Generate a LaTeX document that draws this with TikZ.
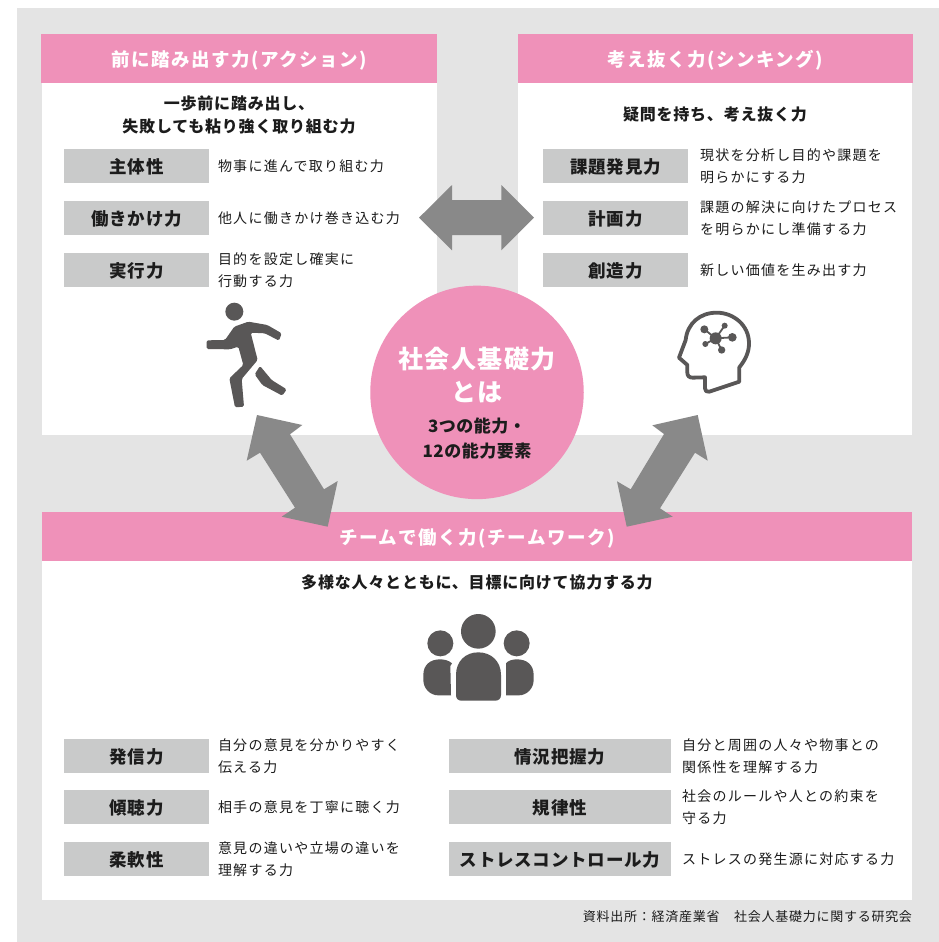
\documentclass[tikz,border=0pt]{standalone}
\usepackage{fontspec}
\usepackage{tikz}
\usetikzlibrary{calc}
\setmainfont{Noto Sans CJK JP}
\definecolor{bggray}{HTML}{E4E4E4}
\definecolor{headpink}{HTML}{EF91B9}
\definecolor{lblgray}{HTML}{C9CACA}
\definecolor{arrgray}{HTML}{898989}
\definecolor{icongray}{HTML}{595757}
\definecolor{txtblack}{HTML}{1C1C1C}
\newcommand{\fontTitle}{\bfseries\fontsize{18.5}{22}\selectfont\addfontfeature{LetterSpace=8}}
\newcommand{\fontLead}{\bfseries\fontsize{16}{23}\selectfont\addfontfeature{LetterSpace=5}}
\newcommand{\fontLbl}{\bfseries\fontsize{17.5}{22}\selectfont\addfontfeature{LetterSpace=4.5}}
\newcommand{\fontDesc}{\fontsize{14}{22}\selectfont\addfontfeature{LetterSpace=9}}
\begin{document}
\begin{tikzpicture}[x=1pt,y=-1pt,
	every node/.style={inner sep=0pt,outer sep=0pt,text=txtblack},
	header/.style={fill=headpink,minimum height=49pt,text=white,text height=17pt,text depth=1.5pt,font=\fontTitle},
	lead/.style={align=center,font=\fontLead},
	lbl/.style={fill=lblgray,minimum width=145pt,minimum height=34pt,text height=16.5pt,text depth=1.5pt,font=\fontLbl},
	desc/.style={anchor=west,align=left,font=\fontDesc},
	dblarrow/.style={fill=arrgray},
	icon/.style={fill=icongray}]
\useasboundingbox (0,0) rectangle (939,942);
\fill[white] (0,0) rectangle (939,942);
\fill[bggray] (17,8) rectangle (939,942);

\fill[white] (42,83) rectangle (437,435);
\fill[white] (518,83) rectangle (912,435);
\fill[white] (42,561) rectangle (912,900);

\node[header,minimum width=396pt] (headA) at (239,58.5) {前に踏み出す力(アクション)};
\node[header,minimum width=395pt] (headB) at (715.5,58.5) {考え抜く力(シンキング)};
\node[header,minimum width=870pt] (headC) at (477,536.5) {チームで働く力(チームワーク)};

\node[lead] (leadA) at (239,114.5) {一歩前に踏み出し、\\失敗しても粘り強く取り組む力};
\node[lead] (leadB) at (715,114.5) {疑問を持ち、考え抜く力};
\node[lead] (leadC) at (477,582.5) {多様な人々とともに、目標に向けて協力する力};

\node[lbl] (lblA1) at (136.5,166) {主体性};
\node[lbl] (lblA2) at (136.5,218) {働きかけ力};
\node[lbl] (lblA3) at (136.5,270) {実行力};
\node[desc] (descA1) at ($(lblA1.east)+(9,0)$) {物事に進んで取り組む力};
\node[desc] (descA2) at ($(lblA2.east)+(9,0)$) {他人に働きかけ巻き込む力};
\node[desc] (descA3) at ($(lblA3.east)+(9,0)$) {目的を設定し確実に\\行動する力};

\node[lbl] (lblB1) at (615.5,166) {課題発見力};
\node[lbl] (lblB2) at (615.5,218) {計画力};
\node[lbl] (lblB3) at (615.5,270) {創造力};
\node[desc] (descB1) at ($(lblB1.east)+(12,0)$) {現状を分析し目的や課題を\\明らかにする力};
\node[desc] (descB2) at ($(lblB2.east)+(12,0)$) {課題の解決に向けたプロセス\\を明らかにし準備する力};
\node[desc] (descB3) at ($(lblB3.east)+(12,0)$) {新しい価値を生み出す力};

\node[lbl] (lblC1) at (136.5,756) {発信力};
\node[lbl] (lblC2) at (136.5,807) {傾聴力};
\node[lbl] (lblC3) at (136.5,859) {柔軟性};
\node[desc] (descC1) at ($(lblC1.east)+(9,0)$) {自分の意見を分かりやすく\\伝える力};
\node[desc] (descC2) at ($(lblC2.east)+(9,0)$) {相手の意見を丁寧に聴く力};
\node[desc] (descC3) at ($(lblC3.east)+(9,0)$) {意見の違いや立場の違いを\\理解する力};

\node[lbl,minimum width=222pt] (lblD1) at (560,756) {情況把握力};
\node[lbl,minimum width=222pt] (lblD2) at (560,807) {規律性};
\node[lbl,minimum width=222pt] (lblD3) at (560,859) {ストレスコントロール力};
\node[desc] (descD1) at ($(lblD1.east)+(11,0)$) {自分と周囲の人々や物事との\\関係性を理解する力};
\node[desc] (descD2) at ($(lblD2.east)+(11,0)$) {社会のルールや人との約束を\\守る力};
\node[desc] (descD3) at ($(lblD3.east)+(11,0)$) {ストレスの発生源に対応する力};

% double arrows
\fill[dblarrow] (419,217.7) -- (452,185) -- (452,200) -- (501.3,200) -- (501.3,185) -- (534,217.7) -- (501.3,250.3) -- (501.3,235) -- (452,235) -- (452,250.3) -- cycle;
\fill[dblarrow] (257,415) -- (302.3,425) -- (290,434.3) -- (324,489.3) -- (337.7,481) -- (327.7,526.7) -- (281.7,516.7) -- (295,507.7) -- (260,452.7) -- (246.7,460.7) -- cycle;
\fill[dblarrow] (697.7,415) -- (707.7,460.7) -- (695,452.7) -- (660,508.3) -- (672.7,516.7) -- (626.7,526.7) -- (617,481.3) -- (630.7,489.3) -- (664,434) -- (652.3,425.3) -- cycle;

\node[circle,fill=headpink,minimum size=213.5pt] (centre) at (477,392.4) {};
\node[text=white,align=center,font=\bfseries\fontsize{25}{33}\selectfont\addfontfeature{LetterSpace=6}] (centreA) at (477,375) {社会人基礎力\\とは};
\node[align=center,font=\bfseries\fontsize{17}{25}\selectfont\addfontfeature{LetterSpace=3}] (centreB) at (477,439) {3つの能力・\\12の能力要素};

% runner
\begin{scope}[shift={(180,280)},scale=1/3]
\fill[icon] (163,95) circle (27);
\fill[icon,rounded corners=1.5pt] (163,140) -- (205,125) -- (262,135) -- (305,160) -- (297,182) -- (255,160) -- (212,158) -- (233,240) -- (185,297) -- (192,380) -- (165,382) -- (148,295) -- (190,255) -- (175,200) -- (150,208) -- (80,207) -- (80,181) -- (135,180) -- cycle;
\fill[icon,rounded corners=1.5pt] (240,258) -- (275,300) -- (320,328) -- (307,347) -- (247,315) -- (224,283) -- cycle;
\end{scope}

% head
\begin{scope}[shift={(600,290)},scale=1/3]
\draw[icongray,line width=3.8pt,line join=round] (418,275) -- (418,232) .. controls (438,207) and (447,185) .. (447,160) .. controls (447,105) and (400,68) .. (350,68) .. controls (300,68) and (262,100) .. (257,150) -- (237,203) -- (262,225) -- (262,248) .. controls (262,258) and (268,263) .. (278,263) -- (315,262) -- (315,295) .. controls (315,303) and (320,307) .. (328,305) -- cycle;
\draw[icongray,line width=1.8pt] (313,118) -- (347,145) (374,107) -- (347,145) (397,142) -- (347,145) (316,162) -- (347,145) (365,180) -- (347,145);
\fill[icon] (347,145) circle (18);
\fill[icon] (313,118) circle (12);
\fill[icon] (374,107) circle (9);
\fill[icon] (397,142) circle (13);
\fill[icon] (316,162) circle (9);
\fill[icon] (365,180) circle (11);
\end{scope}

% people
\begin{scope}[shift={(400,600)},scale=1/3]
\fill[icon] (235,94) circle (52);
\fill[icon] (121,130) circle (39);
\fill[icon] (350,130) circle (39);
\fill[icon] (168,285) -- (168,225) .. controls (168,185) and (195,157) .. (235,157) .. controls (275,157) and (303,185) .. (303,225) -- (303,285) .. controls (303,297) and (295,302) .. (285,302) -- (185,302) .. controls (175,302) and (168,297) .. (168,285) -- cycle;
\fill[icon] (153,286) -- (115,286) .. controls (90,286) and (70,265) .. (70,240) -- (70,225) .. controls (70,195) and (90,178) .. (120,178) .. controls (135,178) and (147,182) .. (156,190) -- (151,198) -- cycle;
\fill[icon] (318,286) -- (356,286) .. controls (381,286) and (401,265) .. (401,240) -- (401,225) .. controls (401,195) and (381,178) .. (351,178) .. controls (336,178) and (324,182) .. (318,190) -- cycle;
\end{scope}

\node[anchor=east,font=\fontsize{13}{16}\selectfont\addfontfeature{LetterSpace=5.7}] (source) at (912,917) {資料出所：経済産業省　社会人基礎力に関する研究会};
\end{tikzpicture}
\end{document}
